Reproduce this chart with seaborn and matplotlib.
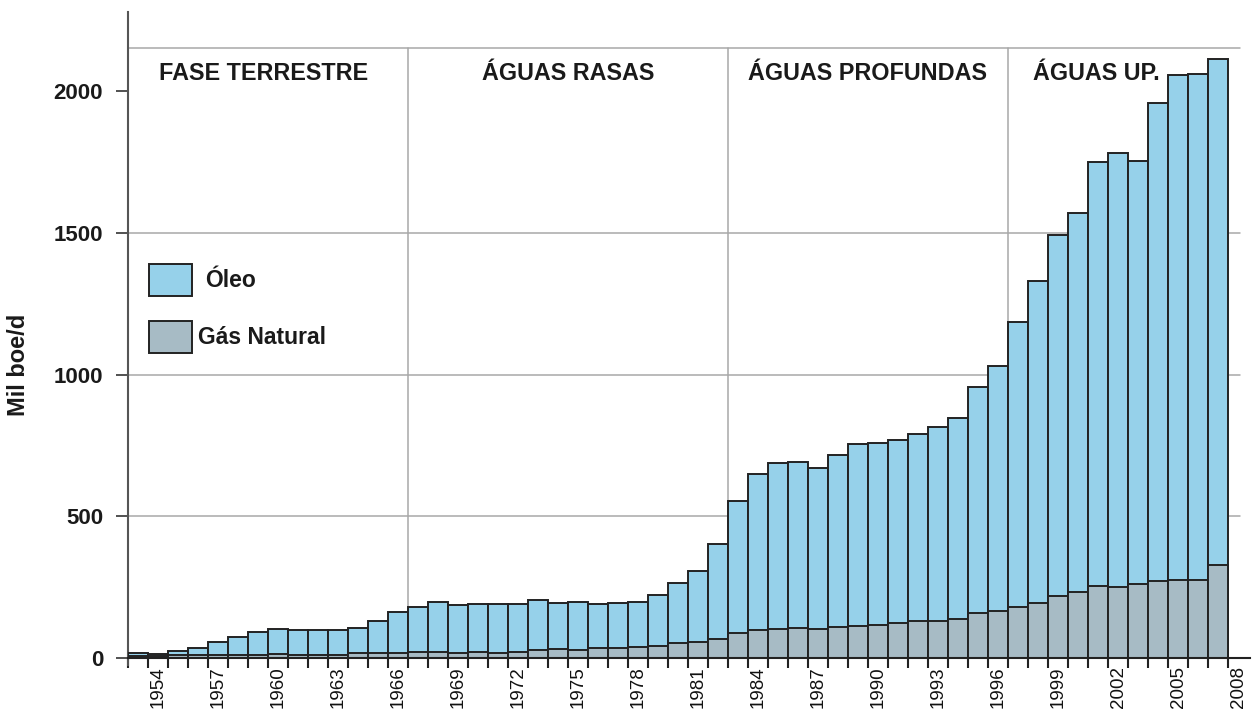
import matplotlib
matplotlib.use("Agg")
import matplotlib.pyplot as plt
from matplotlib.patches import Rectangle
import seaborn as sns
import pandas as pd
import numpy as np

years = list(range(1953, 2008))
total = [17, 14, 25, 36, 56, 75, 93, 101, 97, 100, 98, 107, 130, 162,
         180, 197, 187, 189, 190, 192, 205, 195, 198, 192, 195, 196, 222, 265, 307, 402,
         553, 650, 688, 690, 670, 718, 755, 758, 768, 790, 815, 847, 957, 1032,
         1185, 1330, 1492, 1569, 1752, 1783, 1755, 1960, 2056, 2062, 2114]
gas = [7, 6, 10, 10, 9, 11, 12, 13, 12, 12, 11, 17, 17, 19,
       21, 21, 19, 20, 19, 21, 28, 31, 28, 36, 35, 38, 42, 52, 56, 66,
       87, 98, 103, 105, 101, 110, 114, 116, 125, 132, 131, 139, 158, 166,
       180, 195, 219, 232, 254, 252, 262, 273, 274, 274, 329]
oil = [t - g for t, g in zip(total, gas)]

phase_labels = ["FASE TERRESTRE", "ÁGUAS RASAS", "ÁGUAS PROFUNDAS", "ÁGUAS UP."]
phase_centers = [1959.3, 1974.5, 1989.5, 2000.9]
phase_dividers = [1966.5, 1982.5, 1996.5]
tick_years = list(range(1954, 2009, 3))

df = pd.DataFrame({"ano": years, "total": total, "gas": gas, "oil": oil})

sns.set_theme(style="white")
plt.rcParams["font.family"] = ["Liberation Sans", "DejaVu Sans"]

oil_color = "#96d1ea"
gas_color = "#a7bbc5"
edge = "#222222"
grid_c = "#a8a8a8"

fig = plt.figure(figsize=(12.55, 7.12), dpi=100)
ax = fig.add_axes([128 / 1255, 47 / 712, 1122 / 1255, 653 / 712])

sns.barplot(data=df, x="ano", y="total", native_scale=True, width=1.0,
            color=oil_color, edgecolor=edge, linewidth=1.4, saturation=1,
            ax=ax, zorder=3)
sns.barplot(data=df, x="ano", y="gas", native_scale=True, width=1.0,
            color=gas_color, edgecolor=edge, linewidth=1.4, saturation=1,
            ax=ax, zorder=3)

ax.set_xlim(1952.5, 2008.6)
ax.set_ylim(-25, 2280)

top_line = 2152
for yv in [500, 1000, 1500, top_line]:
    ax.plot([1952.5, 2008.1], [yv, yv], color=grid_c, lw=1.1, zorder=1)
for xv in phase_dividers:
    ax.plot([xv, xv], [0, top_line], color=grid_c, lw=1.1, zorder=1)

for lab, xc in zip(phase_labels, phase_centers):
    ax.text(xc, 2063, lab, ha="center", va="center", fontsize=16.8,
            fontweight="bold", color="#1a1a1a", zorder=5)

# spines
for s in ["top", "right"]:
    ax.spines[s].set_visible(False)
ax.spines["left"].set_color("#555555")
ax.spines["left"].set_linewidth(1.5)
ax.spines["bottom"].set_position(("data", 0))
ax.spines["bottom"].set_color("#222222")
ax.spines["bottom"].set_linewidth(1.5)
ax.spines["bottom"].set_zorder(6)

# x ticks
ax.set_xticks(tick_years)
ax.set_xticklabels([str(y) for y in tick_years], rotation=90, fontsize=13.5,
                   color="#111111")
ax.set_xticks(np.arange(1952.5, 2008, 1.0), minor=True)
ax.tick_params(axis="x", which="major", length=0, pad=6)
ax.tick_params(axis="x", which="minor", length=7, width=1.5, color="#222222",
               direction="out", bottom=True)

# y ticks
ax.set_yticks([0, 500, 1000, 1500, 2000])
ax.set_yticklabels(["0", "500", "1000", "1500", "2000"], fontsize=16,
                   fontweight="bold", color="#1a1a1a")
ax.tick_params(axis="y", length=9, width=1.2, color="#333333", pad=9, left=True)

ax.set_xlabel("")
ax.set_ylabel("Mil boe/d", fontsize=17, fontweight="bold", color="#1a1a1a")
ax.yaxis.set_label_coords(-0.087, 0.459)

# legend
fig.add_artist(Rectangle((149 / 1255, 1 - 296 / 712), 43 / 1255, 32 / 712,
                         transform=fig.transFigure, facecolor=oil_color,
                         edgecolor=edge, linewidth=1.4))
fig.add_artist(Rectangle((149 / 1255, 1 - 353 / 712), 43 / 1255, 32 / 712,
                         transform=fig.transFigure, facecolor=gas_color,
                         edgecolor=edge, linewidth=1.4))
fig.text(205 / 1255, 1 - 280 / 712, "Óleo", fontsize=16.5, fontweight="bold",
         va="center", ha="left", color="#1a1a1a")
fig.text(198 / 1255, 1 - 337 / 712, "Gás Natural", fontsize=16.5, fontweight="bold",
         va="center", ha="left", color="#1a1a1a")

fig.savefig("out.png", dpi=100, facecolor="white")
